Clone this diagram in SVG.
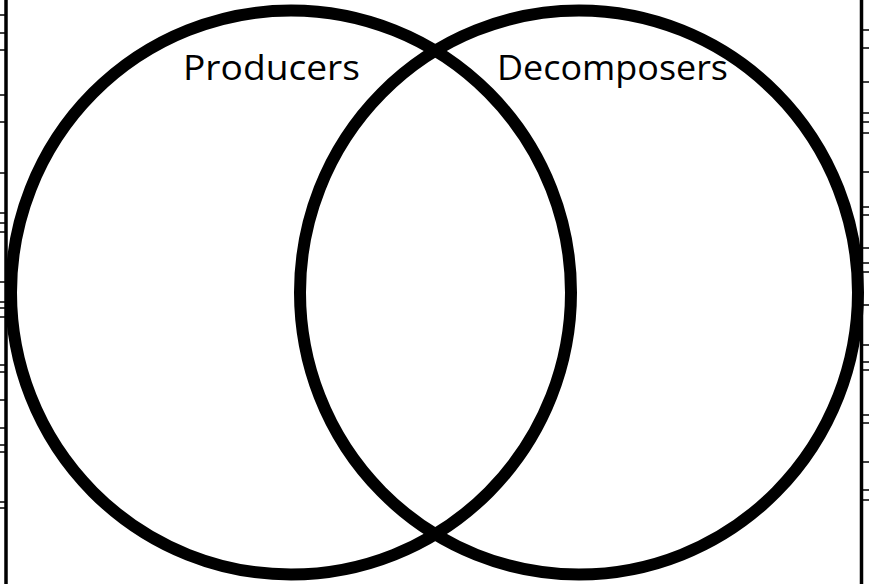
<svg xmlns="http://www.w3.org/2000/svg" width="869" height="584" viewBox="0 0 869 584">
<style>
.frame{stroke:#000;stroke-width:3.5;fill:none}
.tick{stroke:#000;stroke-width:1.5;fill:none}
.ring{stroke:#000;stroke-width:12;fill:none}
.lbl{font-family:"Open Sans","Liberation Sans",sans-serif;font-size:35px;fill:#000}
</style>
<rect width="869" height="584" fill="#fff"/>
<g id="frame">
<line class="frame" x1="6" y1="0" x2="6" y2="584"/>
<line class="frame" x1="861.5" y1="0" x2="861.5" y2="584"/>
<path class="tick" d="M0 15h6M0 33h6M0 50h6M0 95h6M0 122h6M0 173h6M0 213h6M0 223h6M0 232h6M0 282h6M0 302h6M0 308h6M0 317h6M0 365h6M0 372h6M0 400h6M0 428h6M0 445h6M0 452h6M0 502h6M0 508h6"/>
<path class="tick" d="M861 30h8M861 48h8M861 82h8M861 113h8M861 122h8M861 133h8M861 172h8M861 207h8M861 215h8M861 248h8M861 263h8M861 272h8M861 305h8M861 345h8M861 362h8M861 370h8M861 415h8M861 423h8M861 462h8M861 490h8M861 500h8"/>
</g>
<g id="producers">
<ellipse class="ring" cx="291" cy="292.5" rx="280" ry="282"/>
<text class="lbl" x="183" y="80" textLength="177" lengthAdjust="spacingAndGlyphs">Producers</text>
</g>
<g id="decomposers">
<ellipse class="ring" cx="579" cy="292.5" rx="279" ry="282"/>
<text class="lbl" x="497" y="80" textLength="231" lengthAdjust="spacingAndGlyphs">Decomposers</text>
</g>
<g id="connectors"></g>
</svg>
